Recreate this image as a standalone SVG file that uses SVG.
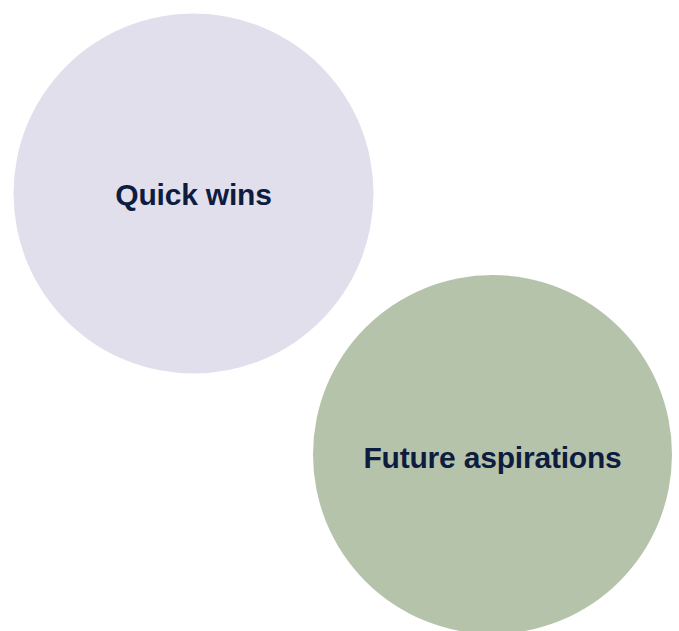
<svg xmlns="http://www.w3.org/2000/svg" width="679" height="631" viewBox="0 0 679 631">
<style>
.lbl{font-family:"Liberation Sans",Arial,Helvetica,sans-serif;font-weight:bold;font-size:30px;fill:#0E1C3F;text-anchor:middle;letter-spacing:-0.2px}
</style>
<rect width="679" height="631" fill="#FFFFFF"/>
<g id="node-quick-wins">
<circle cx="193.5" cy="193.5" r="180" fill="#E1DFEC"/>
<text class="lbl" x="193.5" y="205">Quick wins</text>
</g>
<g id="node-future-aspirations">
<circle cx="492.5" cy="454.5" r="179.5" fill="#B6C3AB"/>
<text class="lbl" x="492.5" y="467.5">Future aspirations</text>
</g>
<g id="connectors"></g>
</svg>
